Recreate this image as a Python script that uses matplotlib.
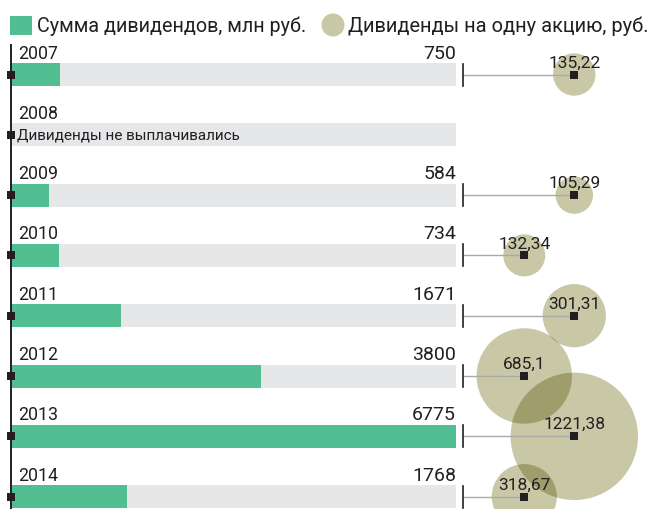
import matplotlib
matplotlib.use("Agg")
import matplotlib.pyplot as plt
from matplotlib.patches import Circle, Rectangle

plt.rcParams['font.family'] = ['Roboto', 'DejaVu Sans']

# data
years = ['2007', '2008', '2009', '2010', '2011', '2012', '2013', '2014']
sums = [750, None, 584, 734, 1671, 3800, 6775, 1768]          # млн руб.
per_share = [135.22, None, 105.29, 132.34, 301.31, 685.1, 1221.38, 318.67]  # руб.
per_share_lbl = ['135,22', None, '105,29', '132,34', '301,31', '685,1', '1221,38', '318,67']
bubble_col = [1, None, 1, 0, 1, 0, 1, 0]   # 1 = right column, 0 = left column
no_pay_text = 'Дивиденды не выплачивались'

GREEN = '#52bf93'
GRAY = '#e6e7e9'
BEIGE = '#c9c8a6'
BEIGE_DARK = '#a09d6c'
DARK = '#231f20'

W, H = 650, 509
fig = plt.figure(figsize=(W / 100, H / 100), dpi=100)

# bar axes (value scale)
bar_left, bar_right = 11, 456
bx = fig.add_axes([bar_left / W, 0, (bar_right - bar_left) / W, 1])
xmax = max(v for v in sums if v)
bx.set_xlim(0, xmax)
bx.set_ylim(H, 0)
bx.axis('off')
bx.set_zorder(1)

# pixel-space overlay axes, on top
ov = fig.add_axes([0, 0, 1, 1])
ov.set_xlim(0, W)
ov.set_ylim(H, 0)
ov.axis('off')
ov.set_zorder(2)
ov.patch.set_alpha(0)

y0, step, bh = 74.5, 60.3, 23
rows = [y0 + i * step for i in range(len(years))]

bx.barh(rows, [xmax] * len(rows), height=bh, color=GRAY, zorder=1)
bx.barh([r for r, v in zip(rows, sums) if v], [v for v in sums if v],
        height=bh, color=GREEN, zorder=2)

# left axis line and markers
ov.plot([10.5, 10.5], [45, H], color=DARK, lw=1.4, zorder=5)
ov.scatter([10.5] * len(rows), rows, marker='s', s=26, color=DARK, zorder=6, linewidths=0)

r_max = 63.7
ps_max = max(v for v in per_share if v)
cols_x = {1: 574.3, 0: 524.3}
circles = []
for i, (yr, y) in enumerate(zip(years, rows)):
    ov.text(18, y - 16, yr, fontsize=12.8, color=DARK, va='baseline', ha='left', zorder=7)
    if sums[i] is None:
        ov.text(17, y + 1, no_pay_text, fontsize=11, color=DARK,
                va='center', ha='left', zorder=7)
        continue
    ov.text(bar_right, y - 16, str(sums[i]), fontsize=14, color=DARK,
            va='baseline', ha='right', zorder=7)
    cx = cols_x[bubble_col[i]]
    r = r_max * (per_share[i] / ps_max) ** 0.5
    ov.add_patch(Circle((cx, y), r, facecolor=BEIGE, edgecolor='none', zorder=2))
    circles.append((cx, y, r))
    ov.plot([463, cx], [y, y], color='#aaaaaa', lw=1, zorder=4)
    ov.plot([463, 463], [y - 11, y + 11], color=DARK, lw=1.2, zorder=4)
    ov.scatter([cx], [y], marker='s', s=30, color=DARK, zorder=6, linewidths=0)
    ov.text(cx, y - 7, per_share_lbl[i], fontsize=12.5, color=DARK,
            va='baseline', ha='center', zorder=7)

# darker overlap between neighbouring bubbles
for (ax_, ay, ar), (bx_, by, br) in zip(circles[:-1], circles[1:]):
    if ((ax_ - bx_) ** 2 + (ay - by) ** 2) ** 0.5 < ar + br:
        clip = Circle((ax_, ay), ar, transform=ov.transData)
        ov_patch = Circle((bx_, by), br, facecolor=BEIGE_DARK, edgecolor='none', zorder=3)
        ov.add_patch(ov_patch)
        ov_patch.set_clip_path(clip)

# legend
ov.add_patch(Rectangle((10, 16), 22, 19, facecolor=GREEN, edgecolor='none'))
ov.text(37, 26, 'Сумма дивидендов, млн руб.', fontsize=14.2, color=DARK, va='center', ha='left')
ov.add_patch(Circle((333, 25), 11.5, facecolor=BEIGE, edgecolor='none'))
ov.text(348, 26, 'Дивиденды на одну акцию, руб.', fontsize=14.4, color=DARK, va='center', ha='left')

fig.savefig('out.png', dpi=100)
